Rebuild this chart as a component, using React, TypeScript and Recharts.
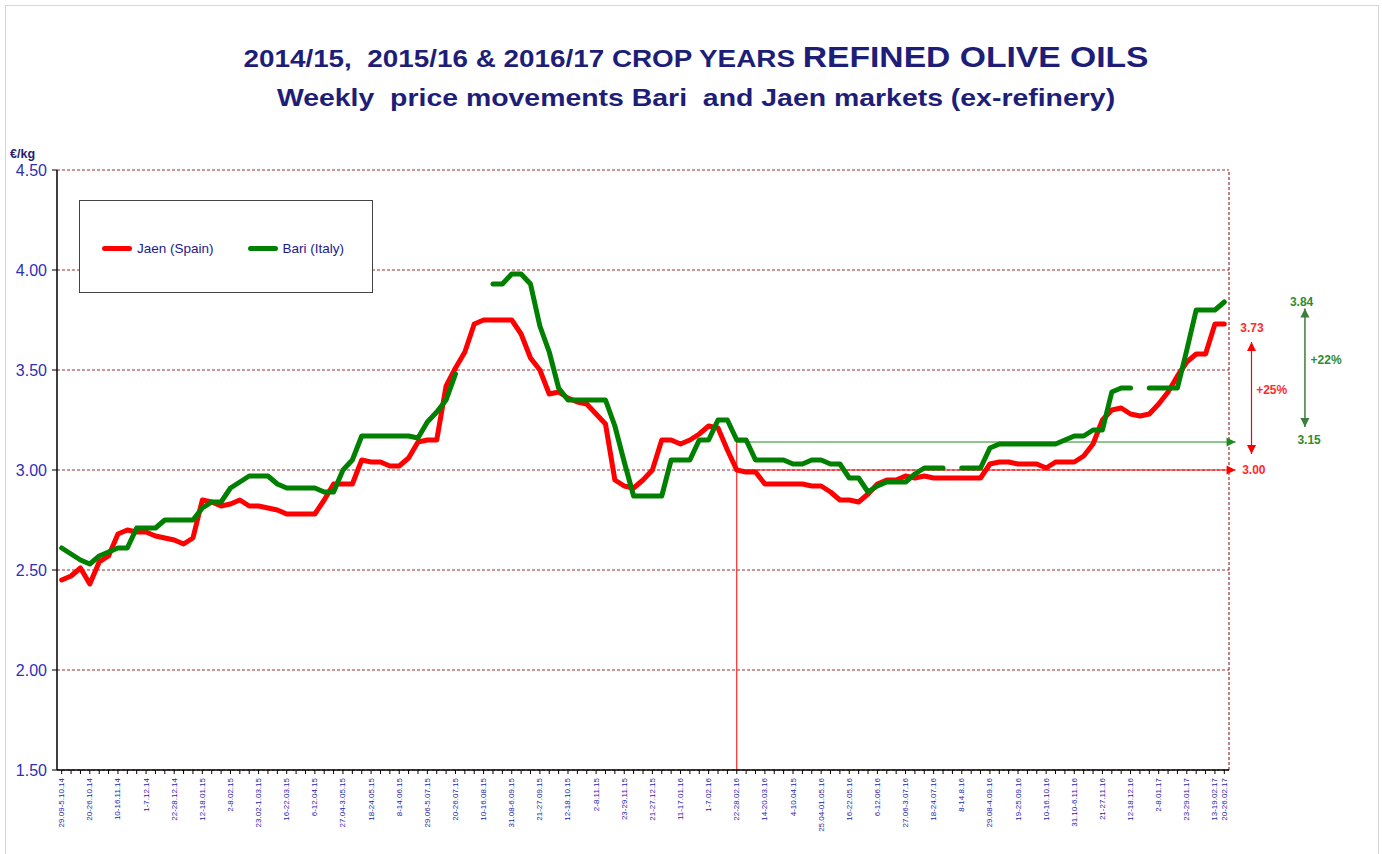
import React from 'react'
import { LineChart, Line, XAxis, YAxis, CartesianGrid, ReferenceLine, ReferenceDot, Legend } from 'recharts'

// weekly ex-refinery prices, €/kg (one entry per week, 29.09.14 .. 20.02.17)
const jaen = [
  2.45, 2.47, 2.51, 2.43, 2.54, 2.57, 2.68, 2.70, 2.69, 2.69,
  2.67, 2.66, 2.65, 2.63, 2.66, 2.85, 2.84, 2.82, 2.83, 2.85,
  2.82, 2.82, 2.81, 2.80, 2.78, 2.78, 2.78, 2.78, 2.85, 2.93,
  2.93, 2.93, 3.05, 3.04, 3.04, 3.02, 3.02, 3.06, 3.14, 3.15,
  3.15, 3.42, 3.51, 3.59, 3.73, 3.75, 3.75, 3.75, 3.75, 3.68,
  3.56, 3.50, 3.38, 3.39, 3.36, 3.34, 3.33, 3.28, 3.23, 2.95,
  2.92, 2.91, 2.95, 3.00, 3.15, 3.15, 3.13, 3.15, 3.18, 3.22,
  3.21, 3.10, 3.00, 2.99, 2.99, 2.93, 2.93, 2.93, 2.93, 2.93,
  2.92, 2.92, 2.89, 2.85, 2.85, 2.84, 2.88, 2.93, 2.95, 2.95,
  2.97, 2.96, 2.97, 2.96, 2.96, 2.96, 2.96, 2.96, 2.96, 3.03,
  3.04, 3.04, 3.03, 3.03, 3.03, 3.01, 3.04, 3.04, 3.04, 3.07,
  3.13, 3.25, 3.30, 3.31, 3.28, 3.27, 3.28, 3.33, 3.39, 3.47,
  3.54, 3.58, 3.58, 3.73, 3.73,
]

const bari = [
  2.61, 2.58, 2.55, 2.53, 2.57, 2.59, 2.61, 2.61, 2.71, 2.71,
  2.71, 2.75, 2.75, 2.75, 2.75, 2.81, 2.84, 2.84, 2.91, 2.94,
  2.97, 2.97, 2.97, 2.93, 2.91, 2.91, 2.91, 2.91, 2.89, 2.89,
  3.00, 3.05, 3.17, 3.17, 3.17, 3.17, 3.17, 3.17, 3.16, 3.24,
  3.29, 3.35, 3.48, null, null, null, 3.93, 3.93, 3.98, 3.98,
  3.93, 3.72, 3.59, 3.41, 3.35, 3.35, 3.35, 3.35, 3.35, 3.22,
  3.04, 2.87, 2.87, 2.87, 2.87, 3.05, 3.05, 3.05, 3.15, 3.15,
  3.25, 3.25, 3.15, 3.15, 3.05, 3.05, 3.05, 3.05, 3.03, 3.03,
  3.05, 3.05, 3.03, 3.03, 2.96, 2.96, 2.89, 2.92, 2.94, 2.94,
  2.94, 2.98, 3.01, 3.01, 3.01, null, 3.01, 3.01, 3.01, 3.11,
  3.13, 3.13, 3.13, 3.13, 3.13, 3.13, 3.13, 3.15, 3.17, 3.17,
  3.20, 3.20, 3.39, 3.41, 3.41, null, 3.41, 3.41, 3.41, 3.41,
  3.60, 3.80, 3.80, 3.80, 3.84,
]

// labelled weeks: [week index, label as printed]
const weekLabels: [number, string][] = [
  [0, '29.09-5.10.14'], [3, '20-26.10.14'], [6, '10-16.11.14'], [9, '1-7.12.14'],
  [12, '22-28.12.14'], [15, '12-18.01.15'], [18, '2-8.02.15'], [21, '23.02-1.03.15'],
  [24, '16-22.03.15'], [27, '6-12.04.15'], [30, '27.04-3.05.15'], [33, '18-24.05.15'],
  [36, '8-14.06.15'], [39, '29.06-5.07.15'], [42, '20-26.07.15'], [45, '10-16.08.15'],
  [48, '31.08-6.09.15'], [51, '21-27.09.15'], [54, '12-18.10.15'], [57, '2-8.11.15'],
  [60, '23-29.11.15'], [63, '21-27.12.15'], [66, '11-17.01.16'], [69, '1-7.02.16'],
  [72, '22-28.02.16'], [75, '14-20.03.16'], [78, '4-10.04.15'], [81, '25.04-01.05.16'],
  [84, '16-22.05.16'], [87, '6-12.06.16'], [90, '27.06-3.07.16'], [93, '18-24.07.16'],
  [96, '8-14.8.16'], [99, '29.08-4.09.16'], [102, '19-25.09.16'], [105, '10-16.10.16'],
  [108, '31.10-6.11.16'], [111, '21-27.11.16'], [114, '12-18.12.16'], [117, '2-8.01.17'],
  [120, '23-29.01.17'], [123, '13-19.02.17'], [124, '20-26.02.17'],
]

const yTicks = [1.5, 2, 2.5, 3, 3.5, 4, 4.5]
const seriesOrder = ['jaen', 'bari']

const data = jaen.map((v, i) => ({ i, jaen: v, bari: bari[i] }))
const labelAt = new Map(weekLabels)
const allWeeks = jaen.map((_, i) => i)

const FONT = '"Liberation Sans", Arial, sans-serif'
const GRID = '#98302e'
const NAVY = '#1e1e78'
const RED = '#ff0000'
const GREEN = '#008000'

function WeekTick(props: any) {
  const { x, y, payload } = props
  const txt = labelAt.get(payload.value)
  if (!txt) return null
  return (
    <text x={x} y={y} transform={`rotate(-90 ${x} ${y})`} textAnchor="end" dominantBaseline="central"
      fontSize={8} fill="#1c1cb0" fontFamily={FONT}>{txt}</text>
  )
}

// arrow drawn along a reference segment, head at the end (and the start if both)
const arrow = (color: string, width: number, both: boolean) => (p: any) => {
  const { x1, y1, x2, y2 } = p
  const a = Math.atan2(y2 - y1, x2 - x1)
  const head = (x: number, y: number, ang: number) => {
    const L = 9, W = 4.5
    const bx = x - L * Math.cos(ang), by = y - L * Math.sin(ang)
    return `${x},${y} ${bx - W * Math.sin(ang)},${by + W * Math.cos(ang)} ${bx + W * Math.sin(ang)},${by - W * Math.cos(ang)}`
  }
  return (
    <g>
      <line x1={x1} y1={y1} x2={x2} y2={y2} stroke={color} strokeWidth={width} />
      <polygon points={head(x2, y2, a)} fill={color} />
      {both && <polygon points={head(x1, y1, a + Math.PI)} fill={color} />}
    </g>
  )
}

const tag = (text: string, color: string) => (p: any) => (
  <text x={p.cx} y={p.cy} dominantBaseline="central" fontSize={12} fontWeight="bold" fill={color} fontFamily={FONT}>{text}</text>
)

function LegendBox(props: any) {
  const items = [...(props.payload || [])].sort(
    (a: any, b: any) => seriesOrder.indexOf(a.dataKey) - seriesOrder.indexOf(b.dataKey))
  return (
    <div style={{ width: 294, height: 93, border: '1.5px solid #444', boxSizing: 'border-box', background: '#fff',
      display: 'flex', alignItems: 'center', paddingLeft: 22, paddingTop: 4, fontFamily: FONT, whiteSpace: 'nowrap' }}>
      {items.map((e: any) => (
        <div key={e.value} style={{ display: 'flex', alignItems: 'center', marginRight: 34, flexShrink: 0 }}>
          <span style={{ display: 'inline-block', width: 30, height: 5, borderRadius: 3, background: e.color, marginRight: 5 }} />
          <span style={{ fontSize: 13.5, color: '#1a1a8c' }}>{e.value}</span>
        </div>
      ))}
    </div>
  )
}

export default function App() {
  return (
    <div style={{ position: 'absolute', left: 0, top: 0, width: 1382, height: 854, background: '#fff', overflow: 'hidden' }}>
      <div style={{ position: 'absolute', left: 5, top: 5, width: 1372, height: 870, border: '1px solid #d4d6e0' }} />
      <div style={{ position: 'absolute', left: 5, top: 39, width: 1382, textAlign: 'center', fontFamily: FONT,
        fontWeight: 'bold', color: NAVY, transform: 'scaleX(1.16)' }}>
        <div style={{ lineHeight: '36px' }}>
          <span style={{ fontSize: 24 }}>2014/15,&nbsp; 2015/16 &amp; 2016/17 CROP YEARS </span>
          <span style={{ fontSize: 29 }}>REFINED OLIVE OILS</span>
        </div>
        <div style={{ fontSize: 24.5, lineHeight: '36px' }}>Weekly&nbsp; price movements Bari&nbsp; and Jaen markets (ex-refinery)</div>
      </div>
      <div style={{ position: 'absolute', left: 10, top: 147, fontFamily: FONT, fontWeight: 'bold', fontSize: 12.5, color: NAVY }}>€/kg</div>

      <LineChart width={1382} height={854} data={data} margin={{ top: 170, right: 153, bottom: 12, left: 10 }}>
        <CartesianGrid vertical={false} stroke={GRID} strokeDasharray="3 2" strokeWidth={1.2} />
        <XAxis dataKey="i" type="number" domain={[-0.5, 124.5]} ticks={allWeeks} interval={0} height={72}
          tick={<WeekTick />} tickSize={4} tickMargin={4} axisLine={{ stroke: '#000', strokeWidth: 1.5 }}
          tickLine={{ stroke: '#000' }} allowDataOverflow />
        <YAxis type="number" domain={[1.5, 4.5]} ticks={yTicks} interval={0} width={47}
          tickFormatter={(v: number) => v.toFixed(2)} tickSize={5} tickMargin={5}
          tick={{ fontSize: 16, fill: '#2f2fb4', fontFamily: FONT }}
          axisLine={{ stroke: '#000', strokeWidth: 1.5 }} tickLine={{ stroke: '#000' }} allowDataOverflow />
        <ReferenceLine x={124.5} stroke={GRID} strokeDasharray="3 2" strokeWidth={1.2} />
        <ReferenceLine segment={[{ x: 72, y: 1.5 }, { x: 72, y: 3.17 }]} stroke={RED} strokeWidth={1} ifOverflow="visible" />
        <ReferenceLine segment={[{ x: 72, y: 3.14 }, { x: 125.2, y: 3.14 }]} ifOverflow="visible" shape={arrow('#1f8a1f', 1, false)} />
        <ReferenceLine segment={[{ x: 72, y: 3.0 }, { x: 125.2, y: 3.0 }]} ifOverflow="visible" shape={arrow(RED, 1, false)} />
        <ReferenceLine segment={[{ x: 126.9, y: 3.08 }, { x: 126.9, y: 3.64 }]} ifOverflow="visible" shape={arrow(RED, 1.2, true)} />
        <ReferenceLine segment={[{ x: 132.6, y: 3.215 }, { x: 132.6, y: 3.807 }]} ifOverflow="visible" shape={arrow('#3d7d3d', 1.5, true)} />
        <ReferenceDot x={125.9} y={3.0} ifOverflow="visible" shape={tag('3.00', '#ff2a2a')} />
        <ReferenceDot x={125.7} y={3.71} ifOverflow="visible" shape={tag('3.73', '#ff2a2a')} />
        <ReferenceDot x={127.4} y={3.40} ifOverflow="visible" shape={tag('+25%', '#ff2a2a')} />
        <ReferenceDot x={131.0} y={3.84} ifOverflow="visible" shape={tag('3.84', '#2e8b2e')} />
        <ReferenceDot x={133.2} y={3.55} ifOverflow="visible" shape={tag('+22%', '#2e8b2e')} />
        <ReferenceDot x={131.8} y={3.15} ifOverflow="visible" shape={tag('3.15', '#2e8b2e')} />
        <Legend verticalAlign="middle" align="center" content={<LegendBox />}
          wrapperStyle={{ left: 79, top: 200, width: 294, height: 93 }} />
        <Line type="linear" dataKey="jaen" name="Jaen (Spain)" stroke={RED} strokeWidth={5} dot={false}
          strokeLinejoin="round" strokeLinecap="round" isAnimationActive={false} />
        <Line type="linear" dataKey="bari" name="Bari (Italy)" stroke={GREEN} strokeWidth={5} dot={false}
          strokeLinejoin="round" strokeLinecap="round" isAnimationActive={false} />
      </LineChart>
    </div>
  )
}
